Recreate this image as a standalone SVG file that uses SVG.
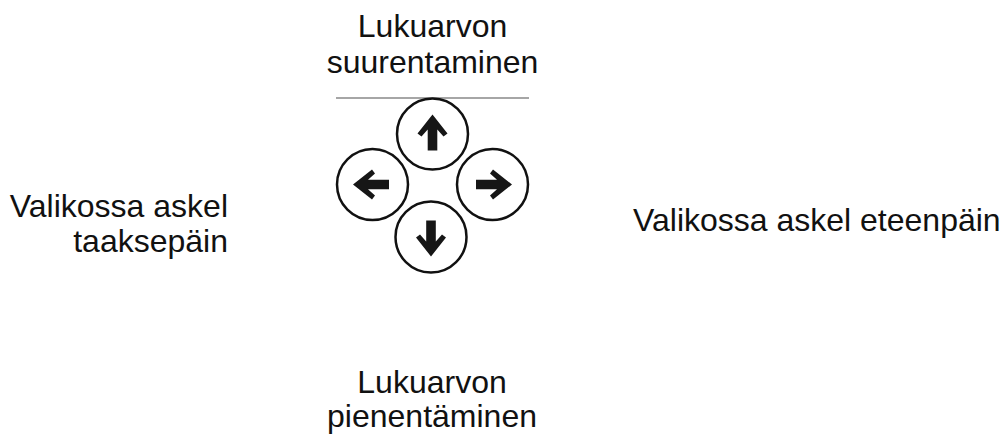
<svg xmlns="http://www.w3.org/2000/svg" width="1006" height="435" viewBox="0 0 1006 435">
<style>
.t{font-family:"Liberation Sans",Arial,sans-serif;font-size:32px;fill:#111}
.btn{fill:#fff;stroke:#111;stroke-width:2.5}
.arr{fill:#161616}
</style>
<defs>
<polygon id="a" class="arr" points="0,-19.5 15,-0.5 11,2.5 4.8,-4.5 4.8,16.5 -4.8,16.5 -4.8,-4.5 -11,2.5 -15,-0.5"/>
</defs>
<rect width="1006" height="435" fill="#fff"/>
<g id="connectors">
<line x1="336" y1="98" x2="529" y2="98" stroke="#888" stroke-width="1.5"/>
</g>
<g id="btn-up"><circle class="btn" cx="432.5" cy="134" r="35.5"/><use href="#a" transform="translate(432.5,134)"/></g>
<g id="btn-left"><circle class="btn" cx="372.5" cy="184.5" r="35.5"/><use href="#a" transform="translate(372.5,184.5) rotate(-90)"/></g>
<g id="btn-right"><circle class="btn" cx="492.5" cy="184.5" r="35.5"/><use href="#a" transform="translate(492.5,184.5) rotate(90)"/></g>
<g id="btn-down"><circle class="btn" cx="431" cy="237" r="35.5"/><use href="#a" transform="translate(431,237) rotate(180)"/></g>
<g id="label-top"><text class="t" x="432.5" y="37" text-anchor="middle">Lukuarvon</text><text class="t" x="432.5" y="73" text-anchor="middle">suurentaminen</text></g>
<g id="label-left"><text class="t" x="228" y="217" text-anchor="end">Valikossa askel</text><text class="t" x="228" y="252" text-anchor="end">taaksepäin</text></g>
<g id="label-right"><text class="t" x="633" y="231">Valikossa askel eteenpäin</text></g>
<g id="label-bottom"><text class="t" x="432" y="393" text-anchor="middle">Lukuarvon</text><text class="t" x="432" y="427" text-anchor="middle">pienentäminen</text></g>
</svg>
